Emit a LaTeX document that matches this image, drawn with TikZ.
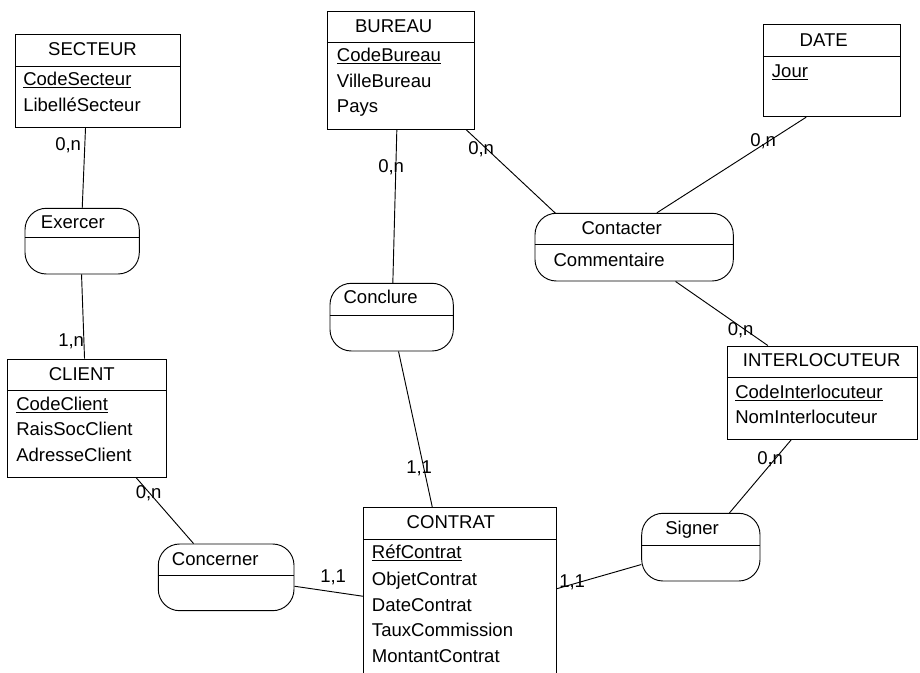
\documentclass[tikz,border=0pt]{standalone}
\usepackage{fontspec}
\setmainfont{Liberation Sans}
\usetikzlibrary{fit,calc}
\begin{document}
\begin{tikzpicture}[x=0.75pt,y=-0.75pt,
  every node/.style={font=\fontsize{13.9}{16}\selectfont},
  box/.style={draw, inner sep=0pt, line width=0.7pt},
  relbox/.style={draw, inner sep=0pt, rounded corners=16pt, line width=0.7pt},
  txt/.style={anchor=base west, inner sep=0pt},
  ttl/.style={anchor=base, inner sep=0pt},
  card/.style={anchor=base west, inner sep=0pt},
  link/.style={line width=0.7pt},
  sep/.style={line width=0.7pt}]
\useasboundingbox (0,0) rectangle (920,673);
\clip (0,0) rectangle (920,673);

% ---------- entities ----------
\node[box, fit={(15.7,34) (180.7,127)}] (secteur) {};
\draw[sep] ($(secteur.north west)+(0,33)$) -- ($(secteur.north east)+(0,33)$);
\node[ttl] (secteurT) at (92.5,56) {SECTEUR};
\node[txt] (secteurA1) at (23,85.7) {\underline{CodeSecteur}};
\node[txt] (secteurA2) at (23,111.7) {LibelléSecteur};

\node[box, fit={(327.3,11.7) (474.7,129.3)}] (bureau) {};
\draw[sep] ($(bureau.north west)+(0,31)$) -- ($(bureau.north east)+(0,31)$);
\node[ttl] (bureauT) at (393.7,32.3) {BUREAU};
\node[txt] (bureauA1) at (336.7,61.7) {\underline{CodeBureau}};
\node[txt] (bureauA2) at (336.7,87.3) {VilleBureau};
\node[txt] (bureauA3) at (336.7,112.3) {Pays};

\node[box, fit={(763.3,24.3) (900,116.7)}] (date) {};
\draw[sep] ($(date.north west)+(0,33)$) -- ($(date.north east)+(0,33)$);
\node[ttl] (dateT) at (823.7,46.7) {DATE};
\node[txt] (dateA1) at (771.7,77.7) {\underline{Jour}};

\node[box, fit={(7.3,359) (166.7,477.3)}] (client) {};
\draw[sep] ($(client.north west)+(0,32)$) -- ($(client.north east)+(0,32)$);
\node[ttl] (clientT) at (81.8,380) {CLIENT};
\node[txt] (clientA1) at (16,410) {\underline{CodeClient}};
\node[txt] (clientA2) at (16,435.7) {RaisSocClient};
\node[txt] (clientA3) at (16,461.7) {AdresseClient};

\node[box, fit={(363.3,507.3) (556,700)}] (contrat) {};
\draw[sep] ($(contrat.north west)+(0,32.7)$) -- ($(contrat.north east)+(0,32.7)$);
\node[ttl] (contratT) at (450.8,528.3) {CONTRAT};
\node[txt] (contratA1) at (371.7,558.3) {\underline{RéfContrat}};
\node[txt] (contratA2) at (371.7,585) {ObjetContrat};
\node[txt] (contratA3) at (371.7,611) {DateContrat};
\node[txt] (contratA4) at (371.7,636.7) {TauxCommission};
\node[txt] (contratA5) at (371.7,662.3) {MontantContrat};

\node[box, fit={(727.3,346) (917,439.3)}] (interloc) {};
\draw[sep] ($(interloc.north west)+(0,32.3)$) -- ($(interloc.north east)+(0,32.3)$);
\node[ttl] (interlocT) at (821.7,366.7) {INTERLOCUTEUR};
\node[txt] (interlocA1) at (735,398.3) {\underline{CodeInterlocuteur}};
\node[txt] (interlocA2) at (735,423.3) {NomInterlocuteur};

% ---------- relations ----------
\node[relbox, fit={(535,213.3) (733.3,281)}] (contacter) {};
\draw[sep] ($(contacter.north west)+(0,31.7)$) -- ($(contacter.north east)+(0,31.7)$);
\node[ttl] (contacterT) at (621.7,235) {Contacter};
\node[txt] (contacterA1) at (553.3,266.7) {Commentaire};

\node[relbox, fit={(158.3,544) (294,610.7)}] (concerner) {};
\draw[sep] ($(concerner.north west)+(0,31.7)$) -- ($(concerner.north east)+(0,31.7)$);
\node[txt] (concernerT) at (171.7,565) {Concerner};

\node[relbox, fit={(641.7,513.3) (760,581)}] (signer) {};
\draw[sep] ($(signer.north west)+(0,32.4)$) -- ($(signer.north east)+(0,32.4)$);
\node[txt] (signerT) at (665,534.3) {Signer};

\node[relbox, fit={(25,208.3) (139.3,274)}] (exercer) {};
\draw[sep] ($(exercer.north west)+(0,29.4)$) -- ($(exercer.north east)+(0,29.4)$);
\node[txt] (exercerT) at (40.7,228.3) {Exercer};

\node[relbox, fit={(330,283.3) (453.3,351)}] (conclure) {};
\draw[sep] ($(conclure.north west)+(0,32.4)$) -- ($(conclure.north east)+(0,32.4)$);
\node[txt] (conclureT) at (343.3,303.3) {Conclure};

% ---------- links ----------
\draw[link] ($(secteur.south west)+(70.3,0)$) -- ($(exercer.north west)+(57.7,0)$);
\draw[link] ($(exercer.south west)+(57,0)$) -- ($(client.north west)+(77.7,0)$);
\draw[link] ($(bureau.south west)+(70,0)$) -- ($(conclure.north west)+(63.3,0)$);
\draw[link] ($(bureau.south west)+(139.4,0)$) -- ($(contacter.north west)+(21,0.5)$);
\draw[link] ($(date.south west)+(43.4,0)$) -- ($(contacter.north west)+(122.3,0)$);
\draw[link] ($(contacter.south west)+(141,0)$) -- ($(interloc.north west)+(41,0)$);
\draw[link] ($(interloc.south west)+(64.4,0)$) -- ($(signer.north west)+(88.3,0)$);
\draw[link] ($(conclure.south west)+(69,0)$) -- ($(contrat.north west)+(69.4,0)$);
\draw[link] ($(client.south west)+(129.4,0)$) -- ($(concerner.north west)+(35.7,0)$);
\draw[link] ($(concerner.north east)+(0,42.7)$) -- ($(contrat.north west)+(0,89.4)$);
\draw[link] ($(signer.north west)+(0,51.7)$) -- ($(contrat.north east)+(0,82)$);

% ---------- cardinalities ----------
\node[card] (c1) at (55,151) {0,n};
\node[card] (c2) at (58,346) {1,n};
\node[card] (c3) at (378,173) {0,n};
\node[card] (c4) at (468,155) {0,n};
\node[card] (c5) at (750,147) {0,n};
\node[card] (c6) at (727.5,335.5) {0,n};
\node[card] (c7) at (757,464) {0,n};
\node[card] (c8) at (406,473) {1,1};
\node[card] (c9) at (135.5,498.5) {0,n};
\node[card] (c10) at (320,582) {1,1};
\node[card] (c11) at (559,587) {1,1};
\end{tikzpicture}
\end{document}
